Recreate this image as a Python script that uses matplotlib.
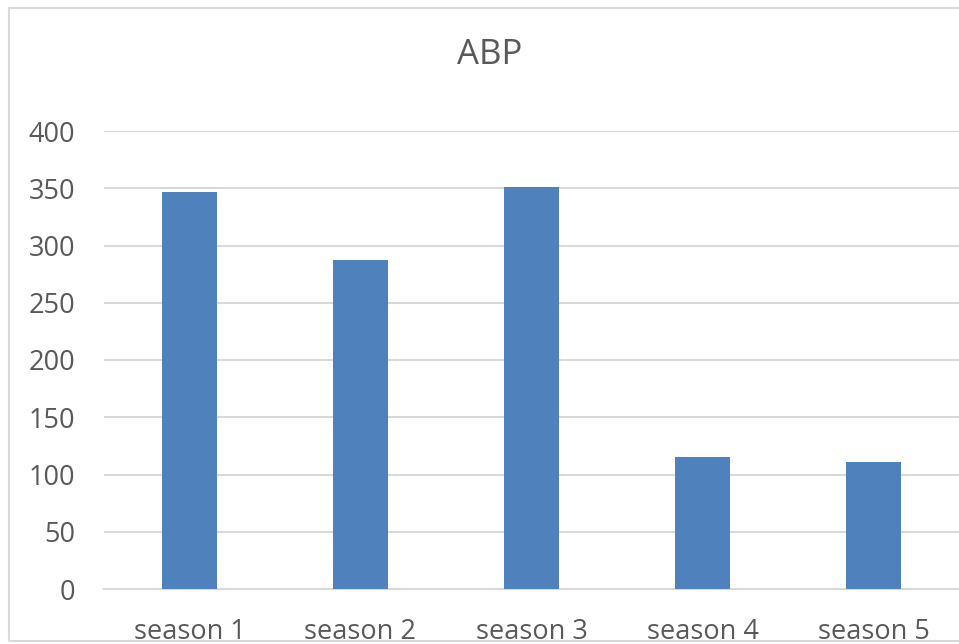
import matplotlib
matplotlib.use("Agg")
import matplotlib.pyplot as plt
from matplotlib.patches import Rectangle

seasons = ["season 1", "season 2", "season 3", "season 4", "season 5"]
abp = [347, 287, 351, 115, 111]
yticks = [0, 50, 100, 150, 200, 250, 300, 350, 400]

W, H = 959, 644
fig = plt.figure(figsize=(W / 100, H / 100), dpi=100)
plt.rcParams["font.family"] = ["Open Sans", "DejaVu Sans"]

ax = fig.add_axes([104 / W, 1 - 589 / H, (W - 104) / W, (589 - 131) / H])
x = range(len(seasons))
ax.bar(x, abp, width=0.316, color="#4f81bd", zorder=3)
ax.set_xlim(-0.5, 4.5)
ax.set_ylim(0, 400)
ax.set_yticks(yticks)
ax.set_xticks(list(x))
ax.set_xticklabels(seasons)
ax.grid(axis="y", color="#d9d9d9", linewidth=1.5, zorder=0)
ax.set_axisbelow(True)
for s in ax.spines.values():
    s.set_visible(False)
ax.tick_params(axis="both", length=0, labelsize=19.5, labelcolor="#595959")
ax.tick_params(axis="y", pad=21)
ax.tick_params(axis="x", pad=21)
ax.axhline(0, color="#d9d9d9", linewidth=1.5, zorder=2, clip_on=False)

# outer chart frame
fig.patches.append(Rectangle((9 / W, 1 - 641 / H), (W + 20) / W, (641 - 8) / H,
                             transform=fig.transFigure, fill=False,
                             edgecolor="#d9d9d9", linewidth=1.5, zorder=0))

fig.text(490 / W, 1 - 55 / H, "ABP", ha="center", va="center",
         fontsize=25, color="#595959")

fig.savefig("out.png", dpi=100)
